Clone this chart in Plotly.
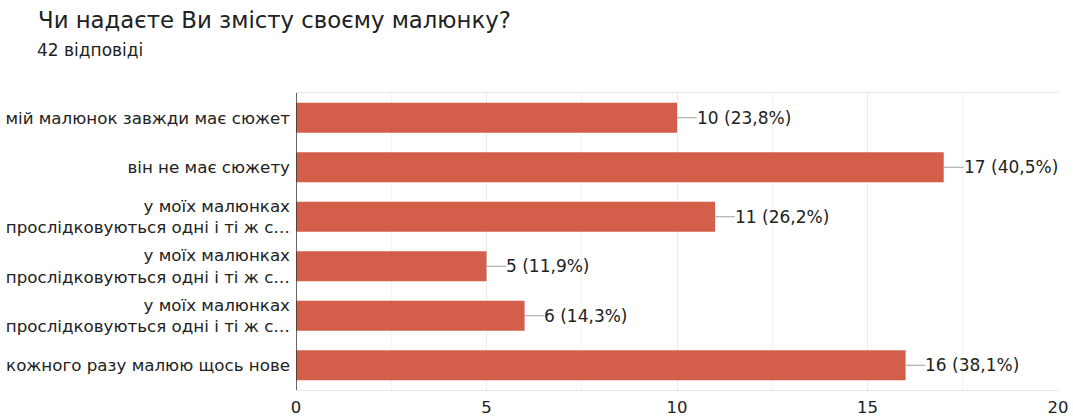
import plotly.graph_objects as go

# Survey question and response counts
title_text = "Чи надаєте Ви змісту своєму малюнку?"
subtitle_text = "42 відповіді"
categories = [
    "мій малюнок завжди має сюжет",
    "він не має сюжету",
    "у моїх малюнках<br>прослідковуються одні і ті ж с…",
    "у моїх малюнках<br>прослідковуються одні і ті ж с…",
    "у моїх малюнках<br>прослідковуються одні і ті ж с…",
    "кожного разу малюю щось нове",
]
counts = [10, 17, 11, 5, 6, 16]
percents = ["23,8%", "40,5%", "26,2%", "11,9%", "14,3%", "38,1%"]
x_ticks = [0, 5, 10, 15, 20]

W, H = 1073, 416
L, R, T, B = 296, 15, 93, 26
BAR_COLOR = "#d35e4a"
TEXT = "#222222"
FONT = "DejaVu Sans, Arial, sans-serif"

positions = list(range(len(categories)))

fig = go.Figure()
fig.add_trace(go.Bar(
    x=counts, y=positions, orientation="h",
    marker=dict(color=BAR_COLOR, line=dict(width=0)),
    hoverinfo="skip", showlegend=False,
))

# leader lines from bar ends to value labels
lx, ly = [], []
for v, p in zip(counts, positions):
    lx += [v, v + 0.52, None]
    ly += [p, p, None]
fig.add_trace(go.Scatter(
    x=lx, y=ly, mode="lines", line=dict(color="#9e9e9e", width=1),
    hoverinfo="skip", showlegend=False,
))

for v, p, pct in zip(counts, positions, percents):
    fig.add_annotation(
        x=v + 0.52, y=p, xref="x", yref="y", text=f"{v} ({pct})",
        showarrow=False, xanchor="left", yanchor="middle", xshift=-2,
        font=dict(family=FONT, size=17, color=TEXT),
    )

pw = W - L - R
ph = H - T - B
fig.add_annotation(
    x=(38 - L) / pw, y=(H - B - 50) / ph, xref="paper", yref="paper",
    text=subtitle_text, showarrow=False, xanchor="left", yanchor="middle",
    xshift=-3,
    font=dict(family=FONT, size=17, color="#202124"),
)

fig.update_layout(
    width=W, height=H,
    margin=dict(l=L, r=R, t=T, b=B, pad=0, autoexpand=False),
    paper_bgcolor="white", plot_bgcolor="white",
    bargap=0.39,
    title=dict(
        text=title_text, xref="container", yref="container",
        x=38 / W, xanchor="left", y=1 - 20 / H, yanchor="middle",
        font=dict(family=FONT, size=22.8, color="#202124"),
    ),
    xaxis=dict(
        range=[0, 20], tickvals=x_ticks, ticktext=[str(t) for t in x_ticks],
        showgrid=True, gridcolor="#ebebeb", gridwidth=1,
        minor=dict(dtick=2.5, showgrid=True, gridcolor="#f3f3f3", gridwidth=1),
        showline=True, linecolor="#e6e6e6", linewidth=1, mirror=True,
        zeroline=False, ticks="", ticklen=0, ticklabelstandoff=2,
        tickfont=dict(family=FONT, size=16.5, color=TEXT),
        automargin=False, fixedrange=True,
    ),
    yaxis=dict(
        tickvals=positions, ticktext=categories,
        range=[len(categories) - 0.5, -0.5],
        showgrid=False, zeroline=False,
        ticks="", ticklabelstandoff=5,
        tickfont=dict(family=FONT, size=16.7, color=TEXT),
        automargin=False, fixedrange=True,
    ),
)

# dark baseline at x = 0
fig.add_shape(type="line", xref="x", yref="paper", x0=0, x1=0, y0=0, y1=1,
              line=dict(color="#333333", width=1.5))

fig.write_html("out.html")
